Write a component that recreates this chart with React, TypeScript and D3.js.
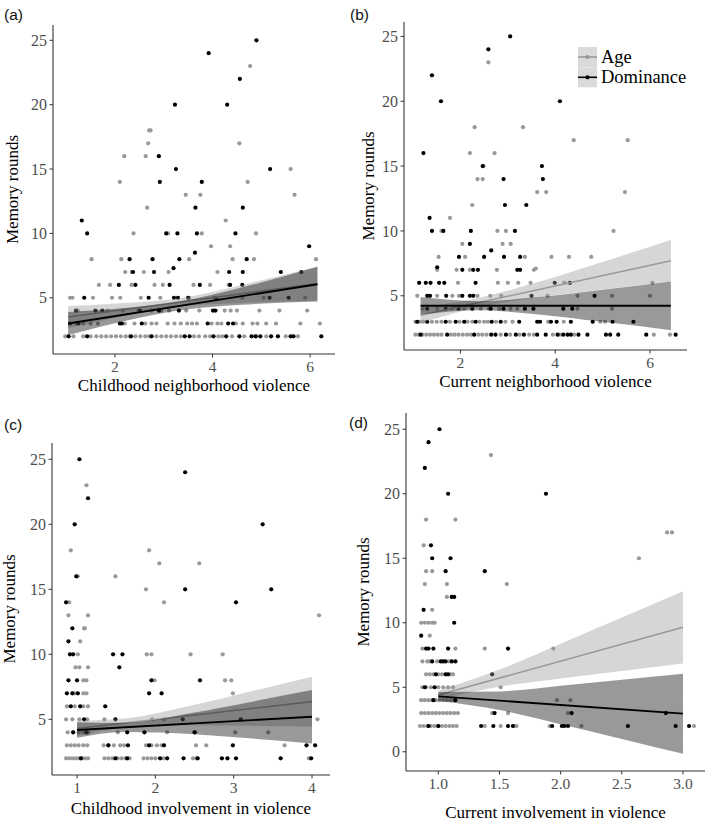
import * as d3 from "d3";

type Pt = [number, number];
type Band = [number, number, number]; // x, lower, upper

// ---- (a) Childhood neighborhood violence ----
const ageA: Pt[] = [
  [4.77, 23], [2.70, 18], [2.73, 18], [2.68, 17], [4.55, 17], [2.19, 16], [2.63, 16], [5.60, 15],
  [2.10, 14], [4.72, 14], [3.45, 13], [3.75, 13], [5.68, 13], [2.66, 12], [4.27, 11], [2.38, 10],
  [3.09, 10], [3.78, 10], [4.89, 10], [3.97, 9], [4.36, 9], [1.52, 8], [2.13, 8], [3.52, 8],
  [4.41, 8], [4.85, 8], [6.12, 8], [2.21, 7], [2.34, 7], [2.59, 7], [3.10, 7], [4.10, 7],
  [1.67, 6], [1.90, 6], [2.34, 6], [2.81, 6], [2.98, 6], [3.61, 6], [3.95, 6], [4.33, 6],
  [1.08, 5], [1.13, 5], [1.55, 5], [1.94, 5], [2.11, 5], [2.53, 5], [2.93, 5], [3.52, 5],
  [4.04, 5], [4.61, 5], [5.90, 5], [5.05, 5],
  [1.24, 4], [1.85, 4], [2.16, 4], [2.48, 4], [2.75, 4], [2.95, 4], [3.11, 4], [3.46, 4],
  [3.73, 4], [4.25, 4], [4.37, 4], [4.50, 4], [4.96, 4], [5.37, 4], [5.94, 4],
  [1.20, 3], [1.35, 3], [1.50, 3], [1.65, 3], [2.20, 3], [2.40, 3], [2.62, 3], [2.75, 3],
  [2.85, 3], [3.08, 3], [3.22, 3], [3.35, 3], [3.48, 3], [3.58, 3], [3.68, 3], [3.98, 3],
  [4.10, 3], [4.18, 3], [4.48, 3], [4.62, 3], [4.82, 3], [4.92, 3], [5.10, 3], [5.30, 3],
  [5.80, 3], [6.20, 3],
  [0.98, 2], [1.15, 2], [1.35, 2], [1.50, 2], [1.62, 2], [1.72, 2], [1.82, 2], [1.92, 2],
  [2.02, 2], [2.12, 2], [2.22, 2], [2.30, 2], [2.42, 2], [2.52, 2], [2.62, 2], [2.70, 2],
  [2.85, 2], [2.95, 2], [3.05, 2], [3.15, 2], [3.25, 2], [3.35, 2], [3.62, 2], [3.72, 2],
  [3.85, 2], [3.95, 2], [4.12, 2], [4.20, 2], [4.40, 2], [4.65, 2], [4.90, 2], [5.10, 2],
  [5.50, 2], [5.75, 2],
];
const domA: Pt[] = [
  [4.90, 25], [3.92, 24], [4.56, 22], [3.23, 20], [4.30, 20], [2.90, 16], [3.25, 15], [5.18, 15],
  [2.92, 14], [3.78, 14], [3.65, 12], [4.62, 12], [1.32, 11], [1.43, 10], [3.05, 10], [3.28, 10],
  [3.68, 10], [4.47, 10], [5.98, 9], [3.64, 8.5], [2.30, 8], [2.77, 8], [3.32, 8], [4.70, 8],
  [3.20, 7.3], [2.37, 7], [2.80, 7], [4.34, 7], [4.62, 7], [5.40, 7], [5.82, 7], [2.08, 6],
  [2.42, 6], [3.12, 6], [3.74, 6], [4.36, 6], [4.61, 6], [1.37, 5], [2.69, 5], [3.21, 5],
  [3.29, 5], [3.50, 5], [4.08, 4.9], [5.17, 5], [5.56, 5],
  [1.20, 4], [1.60, 4], [1.74, 4], [2.51, 4], [2.90, 4], [3.31, 4], [4.01, 4], [4.06, 4],
  [1.08, 3], [1.25, 3], [2.10, 3], [2.14, 3], [2.55, 3], [3.90, 3], [4.32, 3], [4.42, 3],
  [1.05, 2], [1.43, 2], [2.33, 2], [2.75, 2], [3.43, 2], [3.53, 2], [4.02, 2], [4.28, 2],
  [4.55, 2], [4.80, 2], [4.88, 2], [4.98, 2], [5.20, 2], [5.34, 2], [5.60, 2], [5.66, 2], [6.23, 2],
];
const ageLineA: Pt[] = [[1.04, 3.5], [6.15, 6.1]];
const domLineA: Pt[] = [[1.04, 3.0], [6.15, 6.05]];
const ageBandA: Band[] = [[1.04, 2.65, 4.35], [2.2, 3.6, 4.6], [3.3, 4.35, 4.95], [4.6, 4.6, 6.0], [6.15, 4.77, 7.43]];
const domBandA: Band[] = [[1.04, 2.1, 3.9], [2.2, 3.2, 4.2], [3.3, 4.0, 4.7], [4.6, 4.45, 5.8], [6.15, 4.7, 7.4]];

// ---- (b) Current neighborhood violence ----
const ageB: Pt[] = [
  [2.59, 23], [2.30, 18], [3.32, 18], [4.39, 17], [5.53, 17], [2.20, 16], [2.72, 16], [2.49, 15],
  [2.36, 14], [2.47, 14], [3.62, 13], [3.81, 13], [5.47, 13], [2.25, 12], [1.78, 11],
  [1.60, 10], [2.78, 10], [2.96, 10], [5.23, 10], [2.04, 9], [2.89, 9], [3.06, 9],
  [1.54, 8], [2.10, 8], [3.36, 8], [3.92, 8], [4.29, 8], [4.76, 8],
  [1.51, 7], [1.92, 7], [2.20, 7], [2.77, 7], [3.55, 7], [3.59, 7.1],
  [1.95, 6], [2.79, 6], [3.00, 6], [3.22, 6], [3.48, 6], [4.19, 6], [6.05, 6],
  [1.09, 5], [1.51, 5], [1.83, 5], [1.97, 5], [2.36, 5], [2.63, 5], [2.86, 5], [3.84, 5],
  [4.47, 5], [5.20, 5], [6.00, 5],
  [1.20, 4], [1.51, 4], [1.82, 4], [2.08, 4], [2.43, 4], [2.60, 4], [2.82, 4], [3.06, 4],
  [3.20, 4], [4.47, 4], [5.20, 4],
  [1.05, 3], [1.15, 3], [1.22, 3], [1.40, 3], [1.50, 3], [1.60, 3], [1.78, 3], [1.98, 3],
  [2.15, 3], [2.25, 3], [2.40, 3], [2.50, 3], [2.58, 3], [2.75, 3], [2.95, 3], [3.10, 3],
  [3.85, 3], [4.18, 3], [4.95, 3], [5.05, 3],
  [1.05, 2], [1.12, 2], [1.20, 2], [1.28, 2], [1.36, 2], [1.44, 2], [1.52, 2], [1.60, 2],
  [1.80, 2], [1.88, 2], [1.96, 2], [2.05, 2], [2.14, 2], [2.22, 2], [2.38, 2], [2.46, 2],
  [2.55, 2], [2.85, 2], [3.05, 2], [3.25, 2], [3.45, 2], [3.55, 2], [3.95, 2], [4.10, 2],
  [4.40, 2], [6.08, 2], [6.42, 2],
];
const domB: Pt[] = [
  [3.05, 25], [2.59, 24], [1.40, 22], [1.59, 20], [4.10, 20], [1.22, 16], [2.47, 15], [3.72, 15],
  [2.91, 14], [3.74, 14], [2.94, 12], [3.39, 12], [1.35, 11],
  [1.40, 10], [1.64, 10], [2.22, 10], [3.15, 10], [2.20, 9], [2.65, 8.5],
  [1.97, 8], [2.50, 8], [2.92, 8], [3.26, 8], [1.51, 7.2],
  [2.04, 7], [2.27, 7], [2.37, 7], [3.20, 7], [3.26, 7],
  [1.13, 6], [1.27, 6], [1.37, 6], [1.55, 6], [1.66, 6], [2.32, 6], [3.99, 6], [4.31, 6],
  [1.30, 5], [1.36, 5], [1.70, 5], [2.04, 5], [2.20, 5], [2.27, 5], [3.50, 5], [4.83, 5],
  [1.30, 4], [1.69, 4], [1.96, 4], [2.25, 4], [2.64, 4], [2.91, 4], [3.36, 4], [3.54, 4],
  [4.17, 4], [4.36, 4],
  [1.09, 3], [1.30, 3], [1.69, 3], [1.90, 3], [2.08, 3], [2.32, 3], [2.66, 3], [2.85, 3],
  [3.24, 3], [3.62, 3], [3.68, 3], [3.91, 3], [4.03, 3], [4.33, 3], [4.79, 3], [5.21, 3], [5.65, 3],
  [1.16, 2], [1.72, 2], [2.29, 2], [2.65, 2], [2.74, 2], [2.96, 2], [3.17, 2], [3.34, 2],
  [3.62, 2], [3.80, 2], [4.05, 2], [4.17, 2], [4.26, 2], [4.33, 2], [4.49, 2], [4.68, 2],
  [5.07, 2], [5.16, 2], [5.33, 2], [5.92, 2], [6.54, 2],
];
const ageLineB: Pt[] = [[1.16, 3.5], [6.44, 7.7]];
const domLineB: Pt[] = [[1.16, 4.23], [6.44, 4.23]];
const ageBandB: Band[] = [[1.16, 2.91, 4.09], [2.4, 4.14, 4.84], [3.6, 4.86, 6.02], [5.0, 5.49, 7.61], [6.44, 6.1, 9.3]];
const domBandB: Band[] = [[1.16, 3.56, 4.9], [2.4, 3.88, 4.58], [3.6, 3.58, 4.88], [5.0, 2.99, 5.47], [6.44, 2.35, 6.11]];

// ---- (c) Childhood involvement in violence ----
const ageC: Pt[] = [
  [1.12, 23], [0.92, 18], [1.92, 18], [2.05, 17], [2.56, 17], [1.01, 16], [1.49, 16], [1.88, 15],
  [0.90, 14], [2.11, 14], [0.89, 13], [1.14, 13], [4.09, 13], [1.09, 12], [1.10, 12], [1.04, 11],
  [1.01, 10], [1.89, 10], [1.95, 10], [2.45, 10], [2.86, 10], [0.98, 9], [1.03, 9], [1.14, 9],
  [1.08, 8], [1.12, 8], [1.99, 8], [2.89, 8], [2.97, 8], [0.97, 7], [1.08, 7], [1.12, 7], [2.99, 7],
  [0.87, 6], [0.97, 6], [1.08, 6], [1.14, 6], [0.86, 5], [0.94, 5], [1.03, 5], [1.13, 5],
  [1.35, 5], [1.96, 5], [2.11, 5], [4.07, 5],
  [0.88, 4], [0.95, 4], [1.02, 4], [1.08, 4], [1.14, 4], [1.52, 4], [2.15, 4], [2.51, 4],
  [3.02, 4], [3.44, 4],
  [0.87, 3], [0.92, 3], [0.97, 3], [1.02, 3], [1.08, 3], [1.13, 3], [1.34, 3], [1.40, 3],
  [1.47, 3], [1.55, 3], [1.60, 3], [1.88, 3], [1.95, 3], [2.02, 3], [2.08, 3], [2.52, 3],
  [2.65, 3], [3.65, 3],
  [0.86, 2], [0.90, 2], [0.94, 2], [0.98, 2], [1.02, 2], [1.06, 2], [1.10, 2], [1.14, 2],
  [1.35, 2], [1.40, 2], [1.45, 2], [1.52, 2], [1.57, 2], [1.62, 2], [1.67, 2], [1.85, 2],
  [1.90, 2], [1.95, 2], [2.00, 2], [2.10, 2], [2.48, 2], [2.52, 2], [3.96, 2],
];
const domC: Pt[] = [
  [1.03, 25], [2.38, 24], [1.14, 22], [0.97, 20], [3.37, 20], [0.99, 16], [2.38, 15], [3.48, 15],
  [0.86, 14], [3.03, 14], [0.94, 12], [0.89, 11], [0.91, 10], [0.95, 10], [1.46, 10], [1.58, 10],
  [1.54, 9], [0.89, 8], [1.00, 8], [1.95, 8], [2.57, 8], [0.87, 7], [0.94, 7], [1.01, 7],
  [1.92, 7], [2.08, 7], [0.92, 6], [1.04, 6], [1.36, 6], [1.09, 5], [1.49, 5], [2.35, 5],
  [3.09, 5], [0.95, 4], [1.12, 4], [1.64, 4], [1.86, 4], [2.50, 4],
  [1.40, 3], [1.65, 3], [1.92, 3], [2.11, 3], [2.99, 3], [3.93, 3], [4.04, 3],
  [1.05, 2], [1.49, 2], [1.64, 2], [2.06, 2], [2.15, 2], [2.36, 2], [2.54, 2], [2.85, 2],
  [2.92, 2], [3.03, 2], [3.60, 2], [3.99, 2],
];
const ageLineC: Pt[] = [[1.0, 4.3], [4.0, 6.36]];
const domLineC: Pt[] = [[1.0, 4.18], [4.0, 5.2]];
const ageBandC: Band[] = [[1.0, 3.71, 4.89], [1.6, 4.36, 5.06], [2.5, 4.54, 6.12], [3.2, 4.5, 7.12], [4.0, 4.44, 8.28]];
const domBandC: Band[] = [[1.0, 3.58, 4.78], [1.6, 4.03, 4.73], [2.5, 3.86, 5.52], [3.2, 3.54, 6.32], [4.0, 3.15, 7.25]];

// ---- (d) Current involvement in violence ----
const ageD: Pt[] = [
  [1.43, 23], [0.90, 18], [1.14, 18], [2.87, 17], [2.91, 17], [0.88, 16], [2.64, 15], [0.90, 14],
  [0.95, 14], [0.89, 13], [1.07, 13], [1.56, 13], [1.07, 12], [0.95, 11], [0.86, 10], [0.89, 10],
  [0.92, 10], [0.95, 10], [0.97, 10], [0.93, 9], [0.87, 8], [1.14, 8], [1.38, 8], [1.94, 8],
  [0.87, 7], [0.91, 7], [0.93, 7], [0.99, 7], [1.09, 7], [0.90, 6], [0.93, 6], [0.96, 6],
  [1.00, 6], [1.03, 6], [1.10, 6], [1.12, 6], [0.87, 5], [0.90, 5], [0.94, 5], [1.00, 5],
  [1.04, 5], [1.08, 5], [1.12, 5], [1.51, 5],
  [0.86, 4], [0.89, 4], [0.92, 4], [0.95, 4], [0.98, 4], [1.01, 4], [1.04, 4], [1.07, 4],
  [1.10, 4], [1.13, 4], [1.97, 4], [2.08, 4],
  [0.86, 3], [0.89, 3], [0.92, 3], [0.95, 3], [0.98, 3], [1.01, 3], [1.04, 3], [1.07, 3],
  [1.10, 3], [1.13, 3], [1.16, 3], [1.44, 3], [1.57, 3], [2.06, 3],
  [0.85, 2], [0.88, 2], [0.91, 2], [0.94, 2], [0.97, 2], [1.00, 2], [1.03, 2], [1.06, 2],
  [1.09, 2], [1.12, 2], [1.15, 2], [1.38, 2], [1.51, 2], [1.62, 2], [1.64, 2], [1.91, 2],
  [2.17, 2], [3.09, 2],
];
const domD: Pt[] = [
  [1.01, 25], [0.92, 24], [0.89, 22], [1.08, 20], [1.88, 20], [0.94, 16], [0.95, 15], [1.10, 15],
  [1.06, 14], [1.38, 14], [1.11, 12], [1.13, 12], [0.88, 11], [1.13, 10], [0.86, 9], [0.90, 8],
  [0.92, 8], [0.96, 8], [1.08, 8], [1.57, 8], [0.95, 7], [1.02, 7], [1.04, 7], [1.06, 7],
  [1.11, 7], [1.14, 7], [0.98, 6], [1.06, 6], [1.08, 6], [1.44, 6], [0.89, 5], [0.97, 5],
  [0.96, 4], [1.14, 4], [1.46, 3], [2.09, 3], [2.86, 3], [0.92, 2], [1.00, 2], [1.35, 2],
  [1.45, 2], [1.57, 2], [1.61, 2], [1.93, 2], [2.01, 2], [2.03, 2], [2.06, 2], [2.55, 2],
  [2.94, 2], [3.05, 2],
];
const ageLineD: Pt[] = [[1.0, 4.4], [3.0, 9.65]];
const domLineD: Pt[] = [[1.0, 4.3], [3.0, 2.95]];
const ageBandD: Band[] = [[1.0, 4.07, 4.73], [1.5, 5.05, 6.37], [2.0, 5.68, 8.38], [2.5, 6.27, 10.41], [3.0, 6.85, 12.45]];
const domBandD: Band[] = [[1.0, 3.96, 4.64], [1.5, 3.24, 4.68], [2.0, 2.14, 5.12], [2.5, 1.0, 5.58], [3.0, -0.15, 6.05]];

const yTicks = [5, 10, 15, 20, 25];
const yTicksD = [0, 5, 10, 15, 20, 25];
const xTicksAB = [2, 4, 6];
const xTicksC = [1, 2, 3, 4];
const xTicksD = [1, 1.5, 2, 2.5, 3];
const legendLabels = ["Age", "Dominance"];

const SERIF = "'Liberation Serif', 'Times New Roman', serif";
const SANS = "'Liberation Sans', Arial, sans-serif";
const GRAY = "#999999";

interface PanelProps {
  box: { left: number; right: number; top: number; bottom: number };
  xDomain: [number, number];
  yDomain: [number, number];
  xTicks: number[];
  yTicks: number[];
  xFmt?: (v: number) => string;
  age: Pt[];
  dom: Pt[];
  ageLine: Pt[];
  domLine: Pt[];
  ageBand: Band[];
  domBand: Band[];
  title: string;
  titleY: number;
  yTitleX: number;
  letter: string;
  letterX: number;
  letterY: number;
  legend?: boolean;
}

function Panel(p: PanelProps) {
  const { box } = p;
  const x = d3.scaleLinear().domain(p.xDomain).range([box.left, box.right]);
  const y = d3.scaleLinear().domain(p.yDomain).range([box.bottom, box.top]);
  const area = d3
    .area<Band>()
    .x((d) => x(d[0]))
    .y0((d) => y(d[1]))
    .y1((d) => y(d[2]))
    .curve(d3.curveMonotoneX);
  const line = d3
    .line<Pt>()
    .x((d) => x(d[0]))
    .y((d) => y(d[1]));
  const fmt = p.xFmt ?? ((v: number) => String(v));
  const cy = (box.top + box.bottom) / 2;

  return (
    <g>
      <text x={p.letterX} y={p.letterY} fontFamily={SANS} fontSize={15.5} fill="#111">
        {p.letter}
      </text>

      {/* points */}
      {p.age.map((d, i) => (
        <circle key={"a" + i} cx={x(d[0])} cy={y(d[1])} r={2.1} fill={GRAY} />
      ))}
      {p.dom.map((d, i) => (
        <circle key={"d" + i} cx={x(d[0])} cy={y(d[1])} r={2.1} fill="#000" />
      ))}

      {/* smooths */}
      <path d={area(p.ageBand) ?? ""} fill={GRAY} fillOpacity={0.4} />
      <path d={line(p.ageLine) ?? ""} stroke={GRAY} strokeWidth={1.6} fill="none" />
      <path d={area(p.domBand) ?? ""} fill="#000" fillOpacity={0.4} />
      <path d={line(p.domLine) ?? ""} stroke="#000" strokeWidth={1.8} fill="none" />

      {/* axes */}
      <line x1={box.left} x2={box.left} y1={box.top} y2={box.bottom} stroke="#333" strokeWidth={1.1} />
      <line x1={box.left} x2={box.right} y1={box.bottom} y2={box.bottom} stroke="#333" strokeWidth={1.1} />
      {p.yTicks.map((t) => (
        <g key={"yt" + t}>
          <line x1={box.left - 3.5} x2={box.left} y1={y(t)} y2={y(t)} stroke="#333" strokeWidth={1} />
          <text
            x={box.left - 6}
            y={y(t)}
            dy="0.35em"
            textAnchor="end"
            fontFamily={SERIF}
            fontSize={16}
            fill="#4d4d4d"
          >
            {t}
          </text>
        </g>
      ))}
      {p.xTicks.map((t) => (
        <g key={"xt" + t}>
          <line x1={x(t)} x2={x(t)} y1={box.bottom} y2={box.bottom + 3.5} stroke="#333" strokeWidth={1} />
          <text
            x={x(t)}
            y={box.bottom + 17.5}
            textAnchor="middle"
            fontFamily={SERIF}
            fontSize={15.5}
            fill="#4d4d4d"
          >
            {fmt(t)}
          </text>
        </g>
      ))}
      <text
        x={(box.left + box.right) / 2}
        y={p.titleY}
        textAnchor="middle"
        fontFamily={SERIF}
        fontSize={17}
        fill="#000"
      >
        {p.title}
      </text>
      <text
        transform={`translate(${p.yTitleX},${cy}) rotate(-90)`}
        textAnchor="middle"
        fontFamily={SERIF}
        fontSize={17}
        fill="#000"
      >
        Memory rounds
      </text>

      {p.legend && (
        <g>
          {legendLabels.map((lab, i) => {
            const top = 47 + i * 20.3;
            const col = i === 0 ? GRAY : "#000";
            return (
              <g key={lab}>
                <rect x={578} y={top} width={19} height={20} fill="#dadada" />
                <line x1={578} x2={597} y1={top + 10} y2={top + 10} stroke={col} strokeWidth={1.6} />
                <circle cx={587.5} cy={top + 10} r={2.1} fill={col} />
                <text x={601} y={top + 15.5} fontFamily={SERIF} fontSize={18.5} fill="#000">
                  {lab}
                </text>
              </g>
            );
          })}
        </g>
      )}
    </g>
  );
}

export default function App() {
  return (
    <svg
      width={709}
      height={824}
      style={{ position: "absolute", left: 0, top: 0, background: "#fff" }}
    >
      <rect x={0} y={0} width={709} height={824} fill="#fff" />
      <Panel
        box={{ left: 53, right: 335, top: 25, bottom: 354 }}
        xDomain={[0.73, 6.51]}
        yDomain={[0.63, 26.19]}
        xTicks={xTicksAB}
        yTicks={yTicks}
        age={ageA}
        dom={domA}
        ageLine={ageLineA}
        domLine={domLineA}
        ageBand={ageBandA}
        domBand={domBandA}
        title="Childhood neighborhood violence"
        titleY={391}
        yTitleX={18}
        letter="(a)"
        letterX={4}
        letterY={20}
      />
      <Panel
        box={{ left: 404, right: 687, top: 22, bottom: 350 }}
        xDomain={[0.81, 6.78]}
        yDomain={[0.82, 26.11]}
        xTicks={xTicksAB}
        yTicks={yTicks}
        age={ageB}
        dom={domB}
        ageLine={ageLineB}
        domLine={domLineB}
        ageBand={ageBandB}
        domBand={domBandB}
        title="Current neighborhood violence"
        titleY={387}
        yTitleX={374}
        letter="(b)"
        letterX={350}
        letterY={20}
        legend
      />
      <Panel
        box={{ left: 52, right: 330, top: 443, bottom: 775 }}
        xDomain={[0.68, 4.23]}
        yDomain={[0.72, 26.25]}
        xTicks={xTicksC}
        yTicks={yTicks}
        age={ageC}
        dom={domC}
        ageLine={ageLineC}
        domLine={domLineC}
        ageBand={ageBandC}
        domBand={domBandC}
        title="Childhood involvement in violence"
        titleY={814}
        yTitleX={15}
        letter="(c)"
        letterX={4}
        letterY={430}
      />
      <Panel
        box={{ left: 406, right: 705, top: 413, bottom: 771 }}
        xDomain={[0.736, 3.18]}
        yDomain={[-1.49, 26.26]}
        xTicks={xTicksD}
        yTicks={yTicksD}
        xFmt={(v) => v.toFixed(1)}
        age={ageD}
        dom={domD}
        ageLine={ageLineD}
        domLine={domLineD}
        ageBand={ageBandD}
        domBand={domBandD}
        title="Current involvement in violence"
        titleY={818}
        yTitleX={369}
        letter="(d)"
        letterX={349}
        letterY={428}
      />
    </svg>
  );
}
